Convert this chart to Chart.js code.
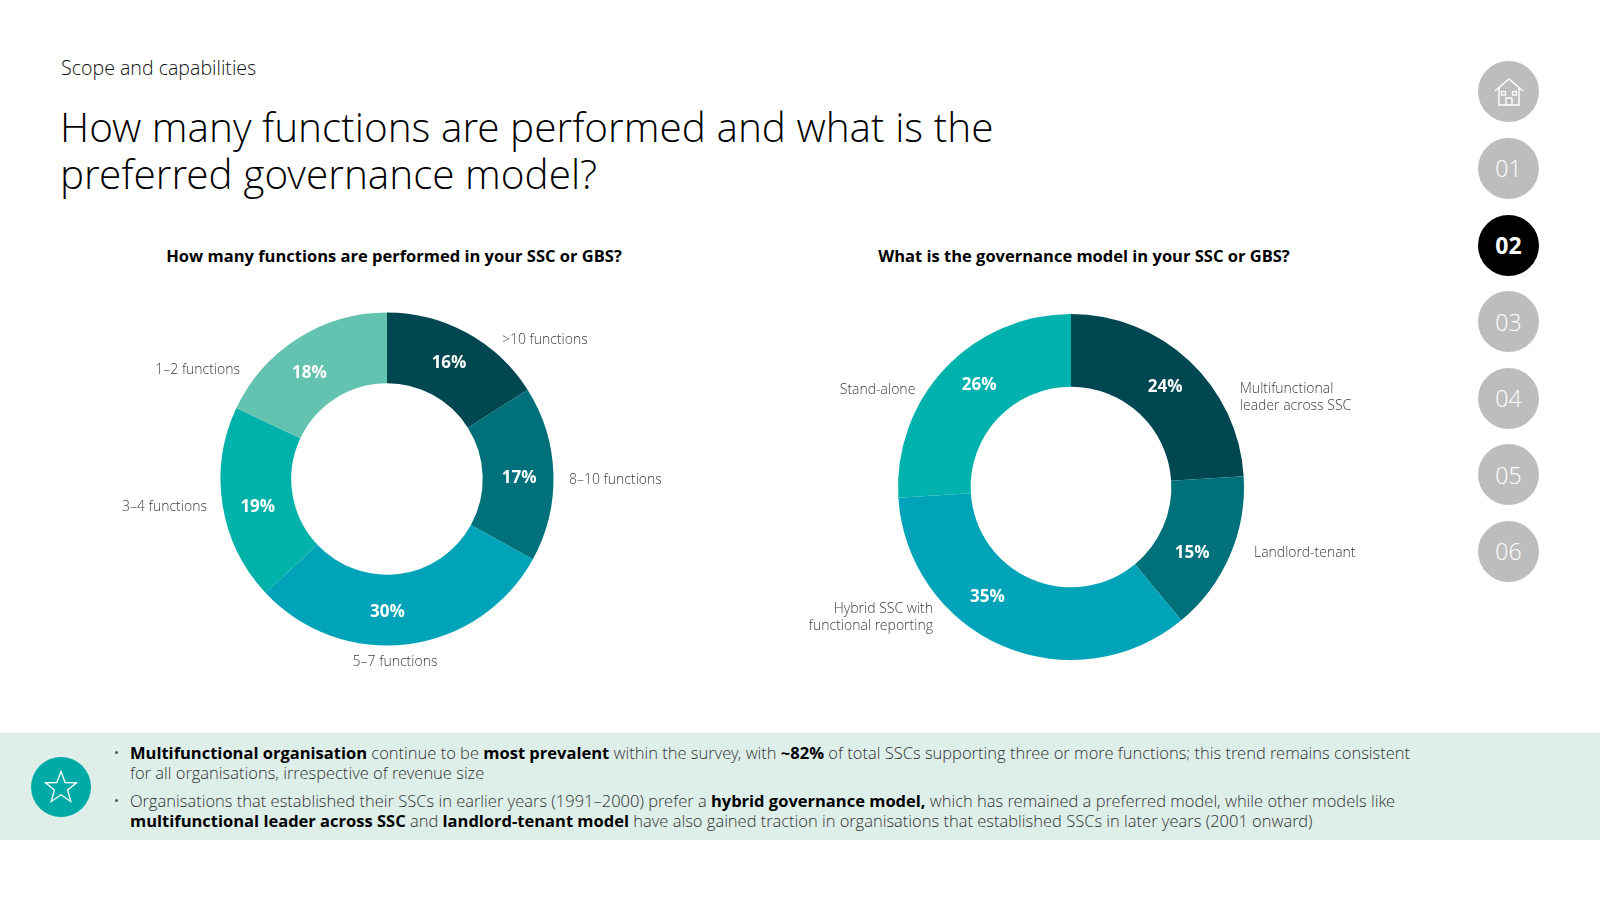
<!DOCTYPE html>
<html>
<head>
<meta charset="utf-8">
<script src="https://cdn.jsdelivr.net/npm/chart.js@4.4.1/dist/chart.umd.min.js"></script>
<style>
  html, body { margin:0; padding:0; width:1600px; height:900px; background:#fff; overflow:hidden; font-family:"Open Sans", sans-serif; }
  .abs { position:absolute; }
  .light { font-family:"Open Sans Light", "Open Sans", sans-serif; font-weight:300; }
  #kicker { left:61px; top:56px; font-size:19.6px; line-height:24px; color:#111; }
  #title { left:60px; top:103px; font-size:40.5px; line-height:47px; color:#000; white-space:nowrap; }
  .sub { top:246px; font-size:16.5px; line-height:20px; font-weight:700; color:#000; white-space:nowrap; transform:translateX(-50%); }
  #box { left:0; top:733px; width:1600px; height:107px; background:#deeee9; }
  #star { left:31px; top:757px; width:60px; height:60px; border-radius:50%; background:#00aaa6; }
  #notes { left:130px; top:743px; font-size:16.5px; line-height:19.5px; color:#333; white-space:nowrap; }
  #notes p { margin:0 0 9px 0; position:relative; }
  #notes p::before { content:""; position:absolute; left:-15px; top:8px; width:3px; height:3px; border-radius:50%; background:#555; }
  #notes b { color:#000; font-weight:700; font-family:"Open Sans", sans-serif; }
  .nav { left:1478px; width:61px; height:61px; border-radius:50%; background:#bdbdbd; color:#fff; font-size:23px; display:flex; align-items:center; justify-content:center; }
  .nav.active { background:#000; font-weight:700; font-family:"Open Sans", sans-serif; }
  #c1wrap { left:87px; top:269px; width:600px; height:420px; }
  #c2wrap { left:751px; top:267px; width:640px; height:440px; }
</style>
</head>
<body>
<div id="kicker" class="abs light">Scope and capabilities</div>
<div id="title" class="abs light">How many functions are performed and what is the<br>preferred governance model?</div>
<div class="abs sub" style="left:394px;">How many functions are performed in your SSC or GBS?</div>
<div class="abs sub" style="left:1084px;">What is the governance model in your SSC or GBS?</div>

<div id="c1wrap" class="abs"><canvas id="c1"></canvas></div>
<div id="c2wrap" class="abs"><canvas id="c2"></canvas></div>

<div id="nav"></div>

<div id="box" class="abs"></div>
<div id="star" class="abs">
  <svg width="60" height="60" viewBox="0 0 60 60"><polygon points="30,14.5 34.2,25.5 45.5,25.8 36.6,33 39.8,44.5 30,37.8 20.2,44.5 23.4,33 14.5,25.8 25.8,25.5" fill="none" stroke="#fff" stroke-width="1.3" stroke-linejoin="miter"/></svg>
</div>
<div id="notes" class="abs light">
  <p><b>Multifunctional organisation</b> continue to be <b>most prevalent</b> within the survey, with <b>~82%</b> of total SSCs supporting three or more functions; this trend remains consistent<br>for all organisations, irrespective of revenue size</p>
  <p>Organisations that established their SSCs in earlier years (1991–2000) prefer a <b>hybrid governance model,</b> which has remained a preferred model, while other models like<br><b>multifunctional leader across SSC</b> and <b>landlord-tenant model</b> have also gained traction in organisations that established SSCs in later years (2001 onward)</p>
</div>

<script>
// ---- Data ----
const functionsCategories = [[">10 functions"], ["8–10 functions"], ["5–7 functions"], ["3–4 functions"], ["1–2 functions"]];
const functionsValues = [16, 17, 30, 19, 18];

const governanceCategories = [["Multifunctional", "leader across SSC"], ["Landlord-tenant"], ["Hybrid SSC with", "functional reporting"], ["Stand-alone"]];
const governanceValues = [24, 15, 35, 26];

const navLabels = ["home", "01", "02", "03", "04", "05", "06"];
const activeNav = "02";

// ---- Styling ----
const functionsColors = ["#004752", "#00707a", "#00a3b8", "#00b2aa", "#64c2b1"];
const governanceColors = ["#004752", "#00707a", "#00a3b8", "#00b2ae"];

// label layout: angle from 12 o'clock (deg), radius factor of outer radius, alignment
const functionsLabelLayout = [
  {angle: 39.6, r: 1.083, align: "left"},
  {angle: 90.3, r: 1.093, align: "left"},
  {angle: 177.5, r: 1.105, align: "center"},
  {angle: 261, r: 1.095, align: "right"},
  {angle: 306.6, r: 1.099, align: "right"}
];
const functionsPctShift = [-0.8, 1, 7, -3, -3.6];
const governanceLabelLayout = [
  {angle: 62.1, r: 1.104, align: "left"},
  {angle: 109.8, r: 1.124, align: "left"},
  {angle: 226.5, r: 1.10, align: "right"},
  {angle: 301.9, r: 1.06, align: "right"}
];
const governancePctShift = [0, 5, 14, 5];

const donutLabels = {
  id: "donutLabels",
  afterDatasetsDraw(chart, args, opts) {
    const ctx = chart.ctx;
    const meta = chart.getDatasetMeta(0);
    const cats = chart.data.labels;
    const vals = chart.data.datasets[0].data;
    ctx.save();
    meta.data.forEach((arc, i) => {
      const p = arc.getProps(["x", "y", "startAngle", "endAngle", "innerRadius", "outerRadius"], true);
      const mid = (p.startAngle + p.endAngle) / 2 + (opts.pctShift[i] || 0) * Math.PI / 180;
      const rm = (p.innerRadius + p.outerRadius) / 2 + 1;
      ctx.fillStyle = "#fff";
      ctx.font = "700 17px 'Open Sans'";
      ctx.textAlign = "center";
      ctx.textBaseline = "middle";
      ctx.fillText(vals[i] + "%", p.x + rm * Math.cos(mid), p.y + rm * Math.sin(mid) + 1);
      const L = opts.layout[i];
      const a = (L.angle - 90) * Math.PI / 180;
      const lx = p.x + p.outerRadius * L.r * Math.cos(a);
      const ly = p.y + p.outerRadius * L.r * Math.sin(a);
      const lines = cats[i];
      const lh = 17.5;
      ctx.fillStyle = "#3c3c3c";
      ctx.font = "300 14px 'Open Sans Light', 'Open Sans'";
      ctx.textAlign = L.align;
      lines.forEach((t, k) => {
        ctx.fillText(t, lx, ly + (k - (lines.length - 1) / 2) * lh);
      });
    });
    ctx.restore();
  }
};

function makeDonut(id, cats, vals, colors, cutout, pad, layout, shift) {
  return new Chart(document.getElementById(id), {
    type: "doughnut",
    data: { labels: cats, datasets: [{ data: vals, backgroundColor: colors, borderWidth: 0, hoverOffset: 0 }] },
    options: {
      responsive: true,
      maintainAspectRatio: false,
      animation: false,
      events: [],
      cutout: cutout,
      layout: { padding: pad },
      plugins: {
        legend: { display: false },
        tooltip: { enabled: false },
        donutLabels: { layout: layout, pctShift: shift }
      }
    },
    plugins: [donutLabels]
  });
}

document.fonts.load("700 17px 'Open Sans'").then(() => document.fonts.load("300 14px 'Open Sans'")).finally(() => {
  makeDonut("c1", functionsCategories, functionsValues, functionsColors, "57.5%", {top: 43.5, bottom: 43.5, left: 0, right: 0}, functionsLabelLayout, functionsPctShift);
  makeDonut("c2", governanceCategories, governanceValues, governanceColors, "58%", {top: 47, bottom: 47, left: 0, right: 0}, governanceLabelLayout, governancePctShift);
});

// nav
const nav = document.getElementById("nav");
const navTop = [61, 137.5, 214.5, 291, 367.5, 444, 520.5];
navLabels.forEach((n, i) => {
  const d = document.createElement("div");
  d.className = "abs nav light" + (n === activeNav ? " active" : "");
  d.style.top = navTop[i] + "px";
  if (n === "home") {
    d.innerHTML = '<svg width="40" height="40" viewBox="0 0 40 40"><path d="M6 19 L20 7 L34 19 M10 16 V33 H30 V16 M17 33 V26 H23 V33" fill="none" stroke="#fff" stroke-width="1.4" stroke-linejoin="miter"/><rect x="12.5" y="19.5" width="4" height="3.5" fill="none" stroke="#fff" stroke-width="1.3"/><rect x="23.5" y="19.5" width="4" height="3.5" fill="none" stroke="#fff" stroke-width="1.3"/></svg>';
  } else {
    d.textContent = n;
  }
  nav.appendChild(d);
});
</script>
</body>
</html>
